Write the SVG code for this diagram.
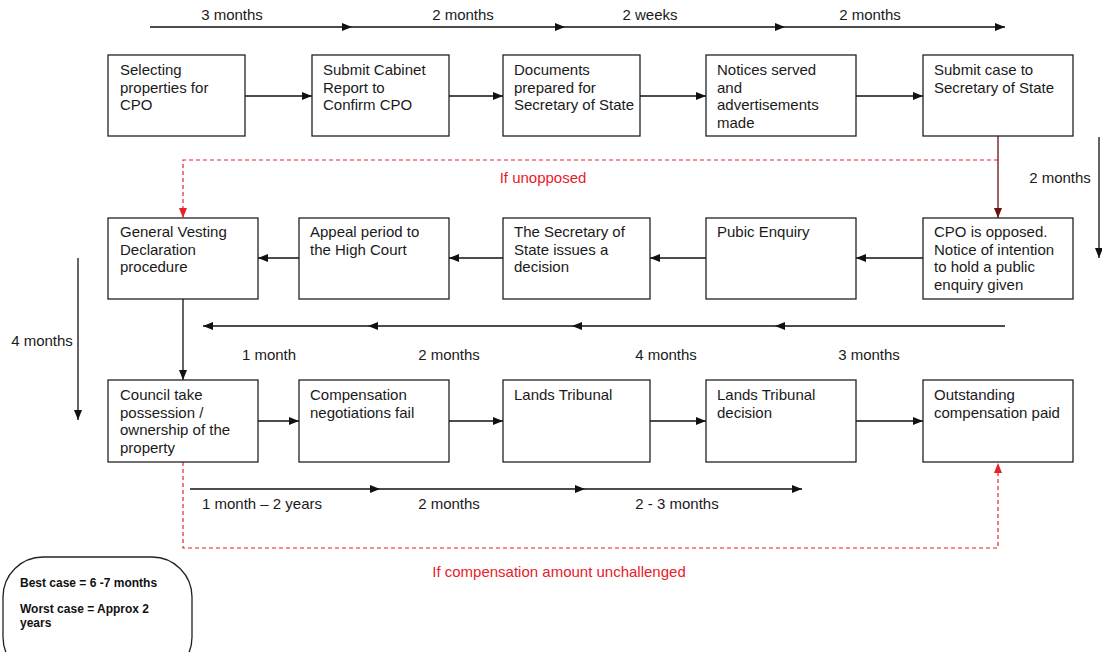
<svg xmlns="http://www.w3.org/2000/svg" width="1102" height="652" viewBox="0 0 1102 652">
<defs>
<marker id="ah" viewBox="0 0 10 8" refX="10" refY="4" markerWidth="10" markerHeight="8" markerUnits="userSpaceOnUse" orient="auto"><path d="M0,0 L10,4 L0,8 z" fill="#111"/></marker>
<marker id="ahr" viewBox="0 0 10 8" refX="10" refY="4" markerWidth="10" markerHeight="8" markerUnits="userSpaceOnUse" orient="auto"><path d="M0,0 L10,4 L0,8 z" fill="#e8202a"/></marker>
<marker id="ahd" viewBox="0 0 10 8" refX="10" refY="4" markerWidth="10" markerHeight="8" markerUnits="userSpaceOnUse" orient="auto"><path d="M0,0 L10,4 L0,8 z" fill="#6a1010"/></marker>
<style>
.box{fill:#fff;stroke:#222;stroke-width:1.3}
.t{font-family:"Liberation Sans",Arial,sans-serif;font-size:15px;fill:#1a1a1a}
.r{font-family:"Liberation Sans",Arial,sans-serif;font-size:15px;fill:#e8202a}
.b{font-family:"Liberation Sans",Arial,sans-serif;font-size:12px;font-weight:bold;fill:#111}
.c{stroke:#111;stroke-width:1.3;fill:none}
.ca{stroke:#111;stroke-width:1.3;fill:none;marker-end:url(#ah)}
.rd{stroke:#e8202a;stroke-width:1.2;fill:none;stroke-dasharray:4,3}
</style>
</defs>
<rect width="1102" height="652" fill="#fff"/>

<g id="connectors">
<line class="ca" x1="150" y1="27" x2="352" y2="27"/>
<line class="ca" x1="352" y1="27" x2="565" y2="27"/>
<line class="ca" x1="565" y1="27" x2="785" y2="27"/>
<line class="ca" x1="785" y1="27" x2="1005" y2="27"/>
<line class="ca" x1="245" y1="96" x2="312" y2="96"/>
<line class="ca" x1="449" y1="96" x2="503" y2="96"/>
<line class="ca" x1="640" y1="96" x2="706" y2="96"/>
<line class="ca" x1="856" y1="96" x2="923" y2="96"/>
<line x1="998" y1="136" x2="998" y2="218" stroke="#6a1010" stroke-width="1.3" marker-end="url(#ahd)"/>
<path class="rd" d="M998,160 L183,160 L183,218" marker-end="url(#ahr)"/>
<line class="ca" x1="1099" y1="137" x2="1099" y2="258"/>
<line class="ca" x1="923" y1="258" x2="856" y2="258"/>
<line class="ca" x1="706" y1="258" x2="650" y2="258"/>
<line class="ca" x1="503" y1="258" x2="449" y2="258"/>
<line class="ca" x1="299" y1="258" x2="258" y2="258"/>
<line class="ca" x1="1005" y1="326" x2="775" y2="326"/>
<line class="ca" x1="775" y1="326" x2="572" y2="326"/>
<line class="ca" x1="572" y1="326" x2="368" y2="326"/>
<line class="ca" x1="368" y1="326" x2="203" y2="326"/>
<line class="ca" x1="78" y1="258" x2="78" y2="420"/>
<line class="ca" x1="183" y1="299" x2="183" y2="380"/>
<line class="ca" x1="258" y1="421" x2="299" y2="421"/>
<line class="ca" x1="449" y1="421" x2="503" y2="421"/>
<line class="ca" x1="650" y1="421" x2="706" y2="421"/>
<line class="ca" x1="856" y1="421" x2="923" y2="421"/>
<line class="ca" x1="190" y1="489" x2="380" y2="489"/>
<line class="ca" x1="380" y1="489" x2="585" y2="489"/>
<line class="ca" x1="585" y1="489" x2="802" y2="489"/>
<path class="rd" d="M183,462 L183,548 L998,548 L998,463" marker-end="url(#ahr)"/>
</g>

<g id="timeline-labels">
<text class="t" x="232" y="20" text-anchor="middle">3 months</text>
<text class="t" x="463" y="20" text-anchor="middle">2 months</text>
<text class="t" x="650" y="20" text-anchor="middle">2 weeks</text>
<text class="t" x="870" y="20" text-anchor="middle">2 months</text>
<text class="t" x="1060" y="183" text-anchor="middle">2 months</text>
<text class="r" x="543" y="183" text-anchor="middle">If unopposed</text>
<text class="t" x="42" y="346" text-anchor="middle">4 months</text>
<text class="t" x="269" y="360" text-anchor="middle">1 month</text>
<text class="t" x="449" y="360" text-anchor="middle">2 months</text>
<text class="t" x="666" y="360" text-anchor="middle">4 months</text>
<text class="t" x="869" y="360" text-anchor="middle">3 months</text>
<text class="t" x="262" y="509" text-anchor="middle">1 month – 2 years</text>
<text class="t" x="449" y="509" text-anchor="middle">2 months</text>
<text class="t" x="677" y="509" text-anchor="middle">2 - 3 months</text>
<text class="r" x="559" y="577" text-anchor="middle">If compensation amount unchallenged</text>
</g>

<g id="n1"><rect class="box" x="108" y="55" width="137" height="81"/>
<text class="t" x="120" y="75">Selecting</text><text class="t" x="120" y="92.5">properties for</text><text class="t" x="120" y="110">CPO</text></g>
<g id="n2"><rect class="box" x="312" y="55" width="137" height="81"/>
<text class="t" x="323" y="75">Submit Cabinet</text><text class="t" x="323" y="92.5">Report to</text><text class="t" x="323" y="110">Confirm CPO</text></g>
<g id="n3"><rect class="box" x="503" y="55" width="137" height="81"/>
<text class="t" x="514" y="75">Documents</text><text class="t" x="514" y="92.5">prepared for</text><text class="t" x="514" y="110">Secretary of State</text></g>
<g id="n4"><rect class="box" x="706" y="55" width="150" height="81"/>
<text class="t" x="717" y="75">Notices served</text><text class="t" x="717" y="92.5">and</text><text class="t" x="717" y="110">advertisements</text><text class="t" x="717" y="127.5">made</text></g>
<g id="n5"><rect class="box" x="923" y="55" width="150" height="81"/>
<text class="t" x="934" y="75">Submit case to</text><text class="t" x="934" y="92.5">Secretary of State</text></g>

<g id="n6"><rect class="box" x="108" y="218" width="150" height="81"/>
<text class="t" x="120" y="237">General Vesting</text><text class="t" x="120" y="254.5">Declaration</text><text class="t" x="120" y="272">procedure</text></g>
<g id="n7"><rect class="box" x="299" y="218" width="150" height="81"/>
<text class="t" x="310" y="237">Appeal period to</text><text class="t" x="310" y="254.5">the High Court</text></g>
<g id="n8"><rect class="box" x="503" y="218" width="147" height="81"/>
<text class="t" x="514" y="237">The Secretary of</text><text class="t" x="514" y="254.5">State issues a</text><text class="t" x="514" y="272">decision</text></g>
<g id="n9"><rect class="box" x="706" y="218" width="150" height="81"/>
<text class="t" x="717" y="237">Pubic Enquiry</text></g>
<g id="n10"><rect class="box" x="923" y="218" width="150" height="81"/>
<text class="t" x="934" y="237">CPO is opposed.</text><text class="t" x="934" y="254.5">Notice of intention</text><text class="t" x="934" y="272">to hold a public</text><text class="t" x="934" y="289.5">enquiry given</text></g>

<g id="n11"><rect class="box" x="108" y="380" width="150" height="82"/>
<text class="t" x="120" y="400">Council take</text><text class="t" x="120" y="417.5">possession /</text><text class="t" x="120" y="435">ownership of the</text><text class="t" x="120" y="452.5">property</text></g>
<g id="n12"><rect class="box" x="299" y="380" width="150" height="82"/>
<text class="t" x="310" y="400">Compensation</text><text class="t" x="310" y="417.5">negotiations fail</text></g>
<g id="n13"><rect class="box" x="503" y="380" width="147" height="82"/>
<text class="t" x="514" y="400">Lands Tribunal</text></g>
<g id="n14"><rect class="box" x="706" y="380" width="150" height="82"/>
<text class="t" x="717" y="400">Lands Tribunal</text><text class="t" x="717" y="417.5">decision</text></g>
<g id="n15"><rect class="box" x="923" y="380" width="150" height="82"/>
<text class="t" x="934" y="400">Outstanding</text><text class="t" x="934" y="417.5">compensation paid</text></g>

<g id="summary"><rect x="3" y="557" width="189" height="120" rx="40" ry="40" fill="#fff" stroke="#222" stroke-width="1.3"/>
<text class="b" x="20" y="587">Best case = 6 -7 months</text>
<text class="b" x="20" y="613">Worst case = Approx 2</text>
<text class="b" x="20" y="627">years</text></g>
</svg>
